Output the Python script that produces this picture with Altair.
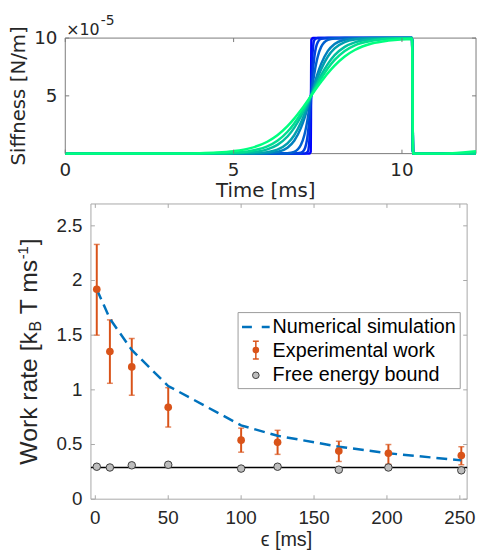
import altair as alt
import pandas as pd

# ---------------- top panel data (stiffness protocols, units of 1e-5 N/m) ----------------
time_ms = [0, 3.0, 4.0, 4.5, 5.0, 5.5, 6.0, 6.3, 6.6, 6.8, 7.0, 7.1, 7.2, 7.25, 7.29, 7.3,
           7.31, 7.35, 7.4, 7.5, 7.6, 7.8, 8.0, 8.3, 8.6, 9.1, 9.6, 10.3, 10.33, 11.2, 12.2]
stiff_1 = [0,0,0,0,0,0,0,0,0,0,0,0,0,0,0.15,5,9.85,10,10,10,10,10,10,10,10,10,10,10,0,0,0]
stiff_10 = [0,0,0,0,0,0,0,0,0,0,0,0,0.15,1.11,3.97,5,6.03,8.89,9.85,10,10,10,10,10,10,10,10,10,0,0,0]
stiff_25 = [0,0,0,0,0,0,0,0,0,0,0.07,0.35,1.59,3.03,4.58,5,5.42,6.97,8.41,9.65,9.93,10,10,10,10,10,10,10,0,0,0]
stiff_50 = [0,0,0,0,0,0,0,0,0.03,0.15,0.76,1.59,3.03,3.97,4.79,5,5.21,6.03,6.97,8.41,9.24,9.85,9.97,10,10,10,10,10,0,0,0]
stiff_100 = [0,0,0,0,0,0.01,0.04,0.15,0.51,1.11,2.23,3.03,3.97,4.48,4.90,5,5.10,5.52,6.03,6.97,7.77,8.89,9.49,9.85,9.96,10,10,10,0,0,0]
stiff_125 = [0,0,0,0,0,0.02,0.13,0.35,0.89,1.59,2.69,3.39,4.17,4.58,4.92,5,5.08,5.42,5.83,6.61,7.31,8.41,9.11,9.65,9.87,9.98,10,10,0,0,0]
stiff_167 = [0,0,0,0.01,0.03,0.11,0.37,0.76,1.48,2.23,3.21,3.78,4.38,4.69,4.94,5,5.06,5.31,5.62,6.22,6.79,7.77,8.52,9.24,9.63,9.89,9.97,10,0,0,0]
stiff_200 = [0,0,0.01,0.03,0.08,0.23,0.62,1.11,1.89,2.61,3.49,3.97,4.48,4.74,4.95,5,5.05,5.26,5.52,6.03,6.51,7.39,8.11,8.89,9.38,9.77,9.92,9.98,0,0,0]
stiff_250 = [0,0.01,0.04,0.09,0.21,0.47,1.03,1.59,2.38,3.03,3.78,4.17,4.58,4.79,4.96,5,5.04,5.21,5.42,5.83,6.22,6.97,7.62,8.41,8.97,9.53,9.79,9.93,0,0,0.2]
curves = [stiff_1, stiff_10, stiff_25, stiff_50, stiff_100, stiff_125, stiff_167, stiff_200, stiff_250]
curve_colors = ["#0000ff", "#0020ef", "#0040df", "#0060cf", "#0080bf", "#009faf", "#00bf9f", "#00df8f", "#00ff80"]
top_xticks = [0, 5, 10]
top_xlabels = ["0", "5", "10"]
top_yticks = [5, 10]
top_ylabels = ["5", "10"]

# ---------------- bottom panel data ----------------
eps_ms = [1, 10, 25, 50, 100, 125, 167, 201, 251]
work_rate = [1.92, 1.35, 1.21, 0.84, 0.54, 0.52, 0.44, 0.42, 0.40]
work_hi = [2.33, 1.64, 1.47, 1.02, 0.65, 0.63, 0.53, 0.50, 0.48]
work_lo = [1.50, 1.06, 0.95, 0.66, 0.43, 0.41, 0.345, 0.32, 0.315]
simulation = [1.92, 1.65, 1.365, 1.035, 0.675, 0.58, 0.48, 0.42, 0.355]
free_energy = [0.297, 0.29, 0.31, 0.315, 0.28, 0.297, 0.27, 0.29, 0.264]
bound_level = [0.29]
bot_xticks = [0, 50, 100, 150, 200, 250]
bot_xlabels = ["0", "50", "100", "150", "200", "250"]
bot_yticks = [0, 0.5, 1, 1.5, 2, 2.5]
bot_ylabels = ["0", "0.5", "1", "1.5", "2", "2.5"]
legend_labels = ["Numerical simulation", "Experimental work", "Free energy bound"]

RED = "#D95319"
BLUE = "#0072BD"
TXT = "#262626"
TOPFONT = "DejaVu Sans"
BOTFONT = "Liberation Sans"

# canvas (whole drawing) size in pixels
CW, CH = 476, 544
# panel frames inside the canvas
T_X0, T_X1, T_Y0, T_Y1 = 58, 474, 27, 144
B_X0, B_X1, B_Y0, B_Y1 = 84, 465, 195, 494


def one():
    return pd.DataFrame({"k": [0]})


def text_layer(s, x, y, size, font, angle=0, align="center", baseline="middle", color=TXT):
    return alt.Chart(pd.DataFrame({"s": [s]})).mark_text(
        align=align, baseline=baseline, angle=angle, fontSize=size, font=font, color=color
    ).encode(text="s:N", x=alt.value(x), y=alt.value(y))


def frame(x0, x1, y0, y1, color):
    return alt.Chart(one()).mark_rect(fill="white", stroke=color, strokeWidth=1).encode(
        x=alt.value(x0), x2=alt.value(x1), y=alt.value(y0), y2=alt.value(y1))


# ---------------- top panel ----------------
xs1 = alt.Scale(domain=[0, 12.2], range=[T_X0, T_X1], nice=False, zero=False)
ys1 = alt.Scale(domain=[0, 10], range=[T_Y1, T_Y0], nice=False, zero=False)


def X1(f="t"):
    return alt.X(f"{f}:Q", scale=xs1, axis=None)


def Y1(f="v"):
    return alt.Y(f"{f}:Q", scale=ys1, axis=None)


FRAME1 = "#7a7a7a"
dfxt1 = pd.DataFrame({"t": top_xticks, "lab": top_xlabels})
dfyt1 = pd.DataFrame({"v": top_yticks, "lab": top_ylabels})

top_layers = [frame(T_X0, T_X1, T_Y0, T_Y1, FRAME1)]
for vals, col in zip(curves, curve_colors):
    df = pd.DataFrame({"t": time_ms, "v": vals})
    top_layers.append(
        alt.Chart(df).mark_line(color=col, strokeWidth=2.5, interpolate="monotone")
        .encode(x=X1(), y=Y1())
    )
top_layers += [
    alt.Chart(dfxt1).mark_rule(color=FRAME1, strokeWidth=1).encode(x=X1(), y=alt.value(T_Y1), y2=alt.value(T_Y1 - 4)),
    alt.Chart(dfxt1).mark_rule(color=FRAME1, strokeWidth=1).encode(x=X1(), y=alt.value(T_Y0), y2=alt.value(T_Y0 + 4)),
    alt.Chart(dfyt1).mark_rule(color=FRAME1, strokeWidth=1).encode(y=Y1(), x=alt.value(T_X0), x2=alt.value(T_X0 + 4)),
    alt.Chart(dfyt1).mark_rule(color=FRAME1, strokeWidth=1).encode(y=Y1(), x=alt.value(T_X1), x2=alt.value(T_X1 - 4)),
    alt.Chart(dfxt1).mark_text(font=TOPFONT, fontSize=18.5, color=TXT, baseline="middle", align="center").encode(
        x=X1(), y=alt.value(160.5), text="lab:N"),
    alt.Chart(dfyt1).mark_text(font=TOPFONT, fontSize=18.5, color=TXT, baseline="middle", align="right").encode(
        y=Y1(), x=alt.value(T_X0 - 8), text="lab:N"),
    text_layer("×10", T_X0 + 1, 24, 16, TOPFONT, align="left", baseline="alphabetic"),
    text_layer("-5", T_X0 + 36, 14, 14, TOPFONT, align="left", baseline="alphabetic"),
    text_layer("Time [ms]", 261, 182, 20, TOPFONT),
    text_layer("Siffness [N/m]", 11, (T_Y0 + T_Y1) / 2, 20, TOPFONT, angle=270),
]
top = alt.layer(*top_layers)

# ---------------- bottom panel ----------------
xs2 = alt.Scale(domain=[-3, 255], range=[B_X0, B_X1], nice=False, zero=False)
ys2 = alt.Scale(domain=[0, 2.7], range=[B_Y1, B_Y0], nice=False, zero=False)


def X2(f="e"):
    return alt.X(f"{f}:Q", scale=xs2, axis=None)


def Y2(f="w"):
    return alt.Y(f"{f}:Q", scale=ys2, axis=None)


dfw = pd.DataFrame({"e": eps_ms, "w": work_rate, "hi": work_hi, "lo": work_lo,
                    "sim": simulation, "fe": free_energy})
FRAME2 = "#a8a8a8"
dfxt2 = pd.DataFrame({"e": bot_xticks, "lab": bot_xlabels})
dfyt2 = pd.DataFrame({"w": bot_yticks, "lab": bot_ylabels})

LX, LY = B_X0, B_Y0  # legend / title offsets relative to panel corner
bot_layers = [
    frame(B_X0, B_X1, B_Y0, B_Y1, FRAME2),
    alt.Chart(pd.DataFrame({"w": bound_level})).mark_rule(color="black", strokeWidth=1.3).encode(
        y=Y2(), x=alt.value(B_X0), x2=alt.value(B_X1)),
    alt.Chart(dfw).mark_rule(color=RED, strokeWidth=2).encode(x=X2(), y=Y2("lo"), y2="hi:Q"),
    alt.Chart(dfw).mark_tick(color=RED, orient="horizontal", size=6, thickness=1.5).encode(x=X2(), y=Y2("hi")),
    alt.Chart(dfw).mark_tick(color=RED, orient="horizontal", size=6, thickness=1.5).encode(x=X2(), y=Y2("lo")),
    alt.Chart(dfw).mark_line(color=BLUE, strokeWidth=2.5, strokeDash=[11, 6]).encode(x=X2(), y=Y2("sim")),
    alt.Chart(dfw).mark_circle(color=RED, size=60, opacity=1).encode(x=X2(), y=Y2()),
    alt.Chart(dfw).mark_point(filled=True, fill="#bdbdbd", stroke="#3c3c3c", strokeWidth=1,
                              size=58, opacity=1).encode(x=X2(), y=Y2("fe")),
    # ticks inside the box
    alt.Chart(dfxt2).mark_rule(color=FRAME2, strokeWidth=1).encode(x=X2(), y=alt.value(B_Y1), y2=alt.value(B_Y1 - 4)),
    alt.Chart(dfxt2).mark_rule(color=FRAME2, strokeWidth=1).encode(x=X2(), y=alt.value(B_Y0), y2=alt.value(B_Y0 + 4)),
    alt.Chart(dfyt2).mark_rule(color=FRAME2, strokeWidth=1).encode(y=Y2(), x=alt.value(B_X0), x2=alt.value(B_X0 + 4)),
    alt.Chart(dfyt2).mark_rule(color=FRAME2, strokeWidth=1).encode(y=Y2(), x=alt.value(B_X1), x2=alt.value(B_X1 - 4)),
    # tick labels
    alt.Chart(dfxt2).mark_text(font=BOTFONT, fontSize=19, color=TXT, baseline="middle", align="center").encode(
        x=X2(), y=alt.value(513.5), text="lab:N"),
    alt.Chart(dfyt2).mark_text(font=BOTFONT, fontSize=19, color=TXT, baseline="middle", align="right").encode(
        y=Y2(), x=alt.value(B_X0 - 8.5), text="lab:N"),
    # legend
    alt.Chart(one()).mark_rect(fill="white", stroke="#9a9a9a", strokeWidth=1).encode(
        x=alt.value(LX + 149), x2=alt.value(LX + 374), y=alt.value(LY + 110), y2=alt.value(LY + 187)),
    alt.Chart(one()).mark_rule(color=BLUE, strokeWidth=2.5, strokeDash=[10, 10]).encode(
        x=alt.value(LX + 153), x2=alt.value(LX + 181), y=alt.value(LY + 124.5)),
    alt.Chart(one()).mark_rule(color=RED, strokeWidth=1.5).encode(
        x=alt.value(LX + 167), y=alt.value(LY + 139), y2=alt.value(LY + 157)),
    alt.Chart(one()).mark_rule(color=RED, strokeWidth=1.5).encode(
        x=alt.value(LX + 164), x2=alt.value(LX + 170), y=alt.value(LY + 139)),
    alt.Chart(one()).mark_rule(color=RED, strokeWidth=1.5).encode(
        x=alt.value(LX + 164), x2=alt.value(LX + 170), y=alt.value(LY + 157)),
    alt.Chart(one()).mark_circle(color=RED, size=45, opacity=1).encode(
        x=alt.value(LX + 167), y=alt.value(LY + 148)),
    alt.Chart(one()).mark_point(filled=True, fill="#bdbdbd", stroke="#3c3c3c",
                                strokeWidth=1, size=45, opacity=1).encode(
        x=alt.value(LX + 167), y=alt.value(LY + 173.5)),
    text_layer(legend_labels[0], LX + 184, LY + 124.5, 20, BOTFONT, align="left", color="black"),
    text_layer(legend_labels[1], LX + 184, LY + 149, 20, BOTFONT, align="left", color="black"),
    text_layer(legend_labels[2], LX + 184, LY + 173.5, 20, BOTFONT, align="left", color="black"),
    # axis titles
    text_layer("ϵ [ms]", 282, 535, 20, BOTFONT),
    text_layer("Work rate [k", 29, LY + 264, 25, BOTFONT, angle=270, align="left", baseline="alphabetic"),
    text_layer("B", 33, LY + 129.25, 16, BOTFONT, angle=270, align="left", baseline="alphabetic"),
    text_layer("T ms", 29, LY + 111.6, 25, BOTFONT, angle=270, align="left", baseline="alphabetic"),
    text_layer("-1", 20, LY + 56.1, 15, BOTFONT, angle=270, align="left", baseline="alphabetic"),
    text_layer("]", 29, LY + 41.9, 25, BOTFONT, angle=270, align="left", baseline="alphabetic"),
]
bottom = alt.layer(*bot_layers)

chart = alt.layer(top, bottom).resolve_scale(x="independent", y="independent").properties(
    width=CW, height=CH, padding=0, background="white",
    autosize=alt.AutoSizeParams(type="none"),
).configure_view(stroke=None)

chart.save("out.html", embed_options={"renderer": "svg", "actions": False})
